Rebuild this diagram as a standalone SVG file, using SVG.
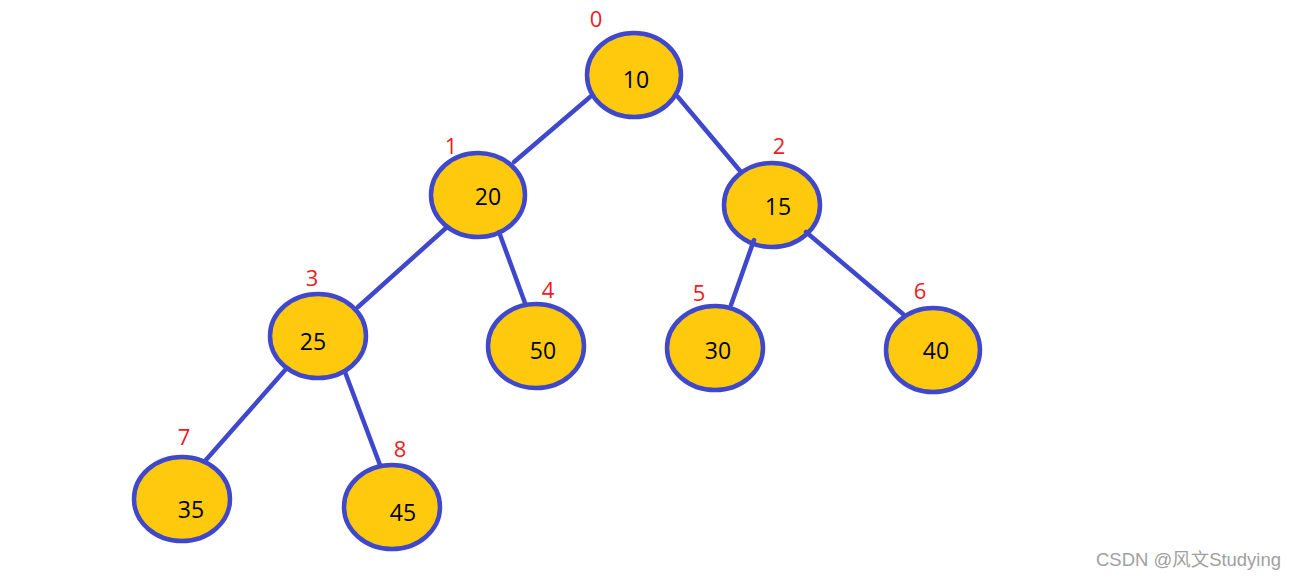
<svg xmlns="http://www.w3.org/2000/svg" width="1296" height="580" viewBox="0 0 1296 580">
<style>
.n{fill:#ffc90e;stroke:#3f48cc;stroke-width:4.5}
.v{font-family:"Open Sans","Noto Sans",sans-serif;font-size:23px;fill:#000;text-anchor:middle}
.i{font-family:"Open Sans","Noto Sans",sans-serif;font-size:22px;fill:#ed1c24;text-anchor:middle}
.e{stroke:#3f48cc;stroke-width:4.5;stroke-linecap:round;fill:none}
.w{font-family:"Liberation Sans","Noto Sans CJK SC",sans-serif;font-size:18px;fill:#a0a0a0}
</style>
<rect width="1296" height="580" fill="#fff"/>
<g id="n0"><ellipse class="n" cx="634" cy="75" rx="47" ry="42"/><text class="v" x="636" y="88">10</text><text class="i" x="596" y="27">0</text></g>
<g id="n1"><ellipse class="n" cx="478" cy="195" rx="47" ry="42"/><text class="v" x="488" y="205">20</text><text class="i" x="451" y="154">1</text></g>
<g id="n2"><ellipse class="n" cx="772" cy="205" rx="48" ry="42"/><text class="v" x="778" y="215">15</text><text class="i" x="779" y="154">2</text></g>
<g id="n3"><ellipse class="n" cx="318" cy="336" rx="48" ry="42"/><text class="v" x="313" y="350">25</text><text class="i" x="312" y="286">3</text></g>
<g id="n4"><ellipse class="n" cx="536" cy="346" rx="48" ry="42"/><text class="v" x="543" y="359">50</text><text class="i" x="548" y="298">4</text></g>
<g id="n5"><ellipse class="n" cx="715" cy="348" rx="48" ry="42"/><text class="v" x="718" y="359">30</text><text class="i" x="699" y="301">5</text></g>
<g id="n6"><ellipse class="n" cx="933" cy="350" rx="47" ry="42"/><text class="v" x="936" y="359">40</text><text class="i" x="920" y="299">6</text></g>
<g id="n7"><ellipse class="n" cx="182" cy="499" rx="48" ry="42"/><text class="v" x="191" y="518">35</text><text class="i" x="184" y="445">7</text></g>
<g id="n8"><ellipse class="n" cx="392" cy="507" rx="48" ry="42"/><text class="v" x="403" y="521">45</text><text class="i" x="400" y="457">8</text></g>
<g id="edges">
<line class="e" x1="590" y1="97" x2="514" y2="162"/>
<line class="e" x1="678" y1="97" x2="741" y2="172"/>
<line class="e" x1="446" y1="228" x2="358" y2="307"/>
<line class="e" x1="499" y1="232" x2="525" y2="303"/>
<line class="e" x1="754" y1="240" x2="731" y2="305"/>
<line class="e" x1="806" y1="232" x2="903" y2="314"/>
<line class="e" x1="286" y1="369" x2="205" y2="461"/>
<line class="e" x1="345" y1="372" x2="380" y2="465"/>
</g>
<text class="w" x="1096" y="566" textLength="185" lengthAdjust="spacingAndGlyphs">CSDN @风文Studying</text>
</svg>
